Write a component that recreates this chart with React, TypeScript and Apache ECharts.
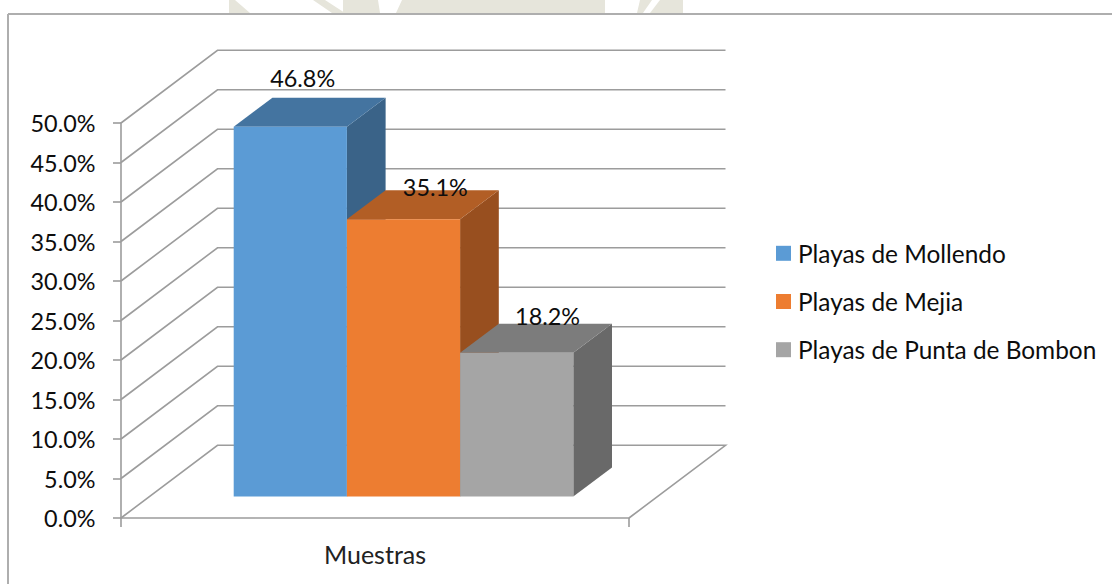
import React, { useEffect, useRef } from "react";
import * as echarts from "echarts";

const categories = ["Muestras"];
const seriesNames = ["Playas de Mollendo", "Playas de Mejia", "Playas de Punta de Bombon"];
const mollendo = [46.8];
const mejia = [35.1];
const puntaDeBombon = [18.2];
const tickValues = [0, 5, 10, 15, 20, 25, 30, 35, 40, 45, 50];

const FRONT = ["#5B9BD5", "#ED7D31", "#A5A5A5"];
const TOP = ["#4474A0", "#B25E25", "#7C7C7C"];
const SIDE = ["#3A6388", "#984F1F", "#696969"];
const GRID = "#9c9c9c";
const FONT = "Lato";
const FONT_SIZE = 23.4;
const LEGEND_FONT_SIZE = 24.4;
const CATEGORY_FONT_SIZE = 25;

// 3D projection of the plot's depth, in pixels
const DEPTH_X = 96.5;
const DEPTH_Y = 72.7;
const BAR_DEPTH_X = 38.7;
const BAR_DEPTH_Y = 29;
const BAR_INSET_X = 28.5;
const BAR_INSET_Y = 21.5;
const BAR_W_RATIO = 113.2 / 508;
// per-series nudge of the value label from the back edge of the bar's top
const LABEL_NUDGE: [number, number][] = [
  [-19, -8],
  [0.5, 8],
  [-0.5, 4],
];

function wallItem(_p: any, api: any) {
  const v = api.value(1);
  const c = api.coord([0, v]);
  const w = api.size([1, 0])[0];
  const l = c[0] - w / 2;
  const y = c[1];
  const pts: number[][] = [
    [l, y],
    [l + DEPTH_X, y - DEPTH_Y],
    [l + w + DEPTH_X, y - DEPTH_Y],
  ];
  if (v === 0) pts.push([l + w, y]);
  return {
    type: "polyline",
    shape: { points: pts },
    style: { stroke: GRID, lineWidth: 1.6, fill: "none" },
  };
}

function barItem(idx: number) {
  return (_p: any, api: any) => {
    const val = api.value(1);
    const top = api.coord([0, val]);
    const base = api.coord([0, 0]);
    const band = api.size([1, 0])[0];
    const bw = band * BAR_W_RATIO;
    const x0 = top[0] - bw * 1.5 + idx * bw + BAR_INSET_X;
    const x1 = x0 + bw;
    const yT = top[1] - BAR_INSET_Y;
    const yB = base[1] - BAR_INSET_Y;
    const dx = BAR_DEPTH_X;
    const dy = BAR_DEPTH_Y;
    const [nx, ny] = LABEL_NUDGE[idx];
    return {
      type: "group",
      children: [
        {
          type: "polygon",
          shape: { points: [[x1, yT], [x1 + dx, yT - dy], [x1 + dx, yB - dy], [x1, yB]] },
          style: { fill: SIDE[idx] },
        },
        {
          type: "polygon",
          shape: { points: [[x0, yT], [x0 + dx, yT - dy], [x1 + dx, yT - dy], [x1, yT]] },
          style: { fill: TOP[idx] },
        },
        {
          type: "rect",
          shape: { x: x0, y: yT, width: bw, height: yB - yT },
          style: { fill: FRONT[idx] },
        },
        {
          type: "text",
          z2: 10,
          style: {
            x: x0 + bw / 2 + dx / 2 + 12 + nx,
            y: yT - dy + ny,
            text: val.toFixed(1) + "%",
            align: "center",
            verticalAlign: "bottom",
            fontFamily: FONT,
            fontSize: FONT_SIZE,
            fill: "#0d0d0d",
          },
        },
      ],
    };
  };
}

const wm = "#e6e5db";
const watermark = [
  [[229, 0], [235, 0], [250, 13], [229, 13]],
  [[313, 0], [325, 0], [345, 13], [332, 13]],
  [[343, 0], [378, 0], [380, 13], [343, 13]],
  [[402, 0], [605, 0], [605, 13], [396, 13]],
  [[640, 0], [652, 0], [643, 13], [637, 13]],
  [[660, 0], [683, 0], [683, 13], [650, 13]],
];

export default function App() {
  const ref = useRef<HTMLDivElement>(null);
  useEffect(() => {
    const chart = echarts.init(ref.current!, undefined, { renderer: "svg" });
    const valueSets = [mollendo, mejia, puntaDeBombon];
    chart.setOption({
      animation: false,
      backgroundColor: "#ffffff",
      grid: { left: 121, right: 483, top: 123, bottom: 66, containLabel: false },
      xAxis: {
        type: "category",
        data: categories,
        boundaryGap: true,
        axisLine: { lineStyle: { color: GRID, width: 1.6 } },
        axisTick: { show: true, length: 9, alignWithLabel: false, lineStyle: { color: GRID, width: 1.6 } },
        axisLabel: { fontFamily: FONT, fontSize: CATEGORY_FONT_SIZE, color: "#222", margin: 23 },
      },
      yAxis: {
        type: "value",
        min: 0,
        max: 50,
        interval: 5,
        splitLine: { show: false },
        axisLine: { show: true, lineStyle: { color: GRID, width: 1.6 } },
        axisTick: { show: true, length: 8, lineStyle: { color: GRID, width: 1.6 } },
        axisLabel: {
          fontFamily: FONT,
          fontSize: FONT_SIZE,
          color: "#0d0d0d",
          margin: 25.5,
          padding: [4, 0, 0, 0],
          formatter: (v: number) => v.toFixed(1) + "%",
        },
      },
      legend: {
        show: true,
        orient: "vertical",
        left: 771,
        top: 236.3,
        itemWidth: 15,
        itemHeight: 15,
        itemGap: 24.2,
        icon: "rect",
        selectedMode: false,
        data: seriesNames,
        textStyle: { fontFamily: FONT, fontSize: LEGEND_FONT_SIZE, color: "#0d0d0d", padding: [0, 0, 0, 2] },
      },
      graphic: watermark.map((points) => ({
        type: "polygon",
        z: -10,
        silent: true,
        shape: { points },
        style: { fill: wm },
      })).concat([
        { type: "line", z: 0, silent: true, shape: { x1: 8, y1: 14, x2: 1112, y2: 14 }, style: { stroke: "#aeaeae", lineWidth: 2 } } as any,
        { type: "line", z: 0, silent: true, shape: { x1: 8, y1: 14, x2: 8, y2: 584 }, style: { stroke: "#aeaeae", lineWidth: 2 } } as any,
      ]),
      series: [
        {
          type: "custom",
          name: "walls",
          z: 1,
          silent: true,
          coordinateSystem: "cartesian2d",
          encode: { x: 0, y: 1 },
          clip: false,
          data: tickValues.map((v) => [0, v]),
          renderItem: wallItem,
        },
        ...seriesNames.map((name, idx) => ({
          type: "custom",
          name,
          z: 2 + idx,
          silent: true,
          coordinateSystem: "cartesian2d",
          encode: { x: 0, y: 1 },
          clip: false,
          itemStyle: { color: FRONT[idx] },
          data: valueSets[idx].map((v, i) => [i, v]),
          renderItem: barItem(idx),
        })),
      ],
    });
    return () => chart.dispose();
  }, []);
  return (
    <div
      ref={ref}
      style={{ position: "absolute", left: 0, top: 0, width: 1112, height: 584 }}
    />
  );
}
